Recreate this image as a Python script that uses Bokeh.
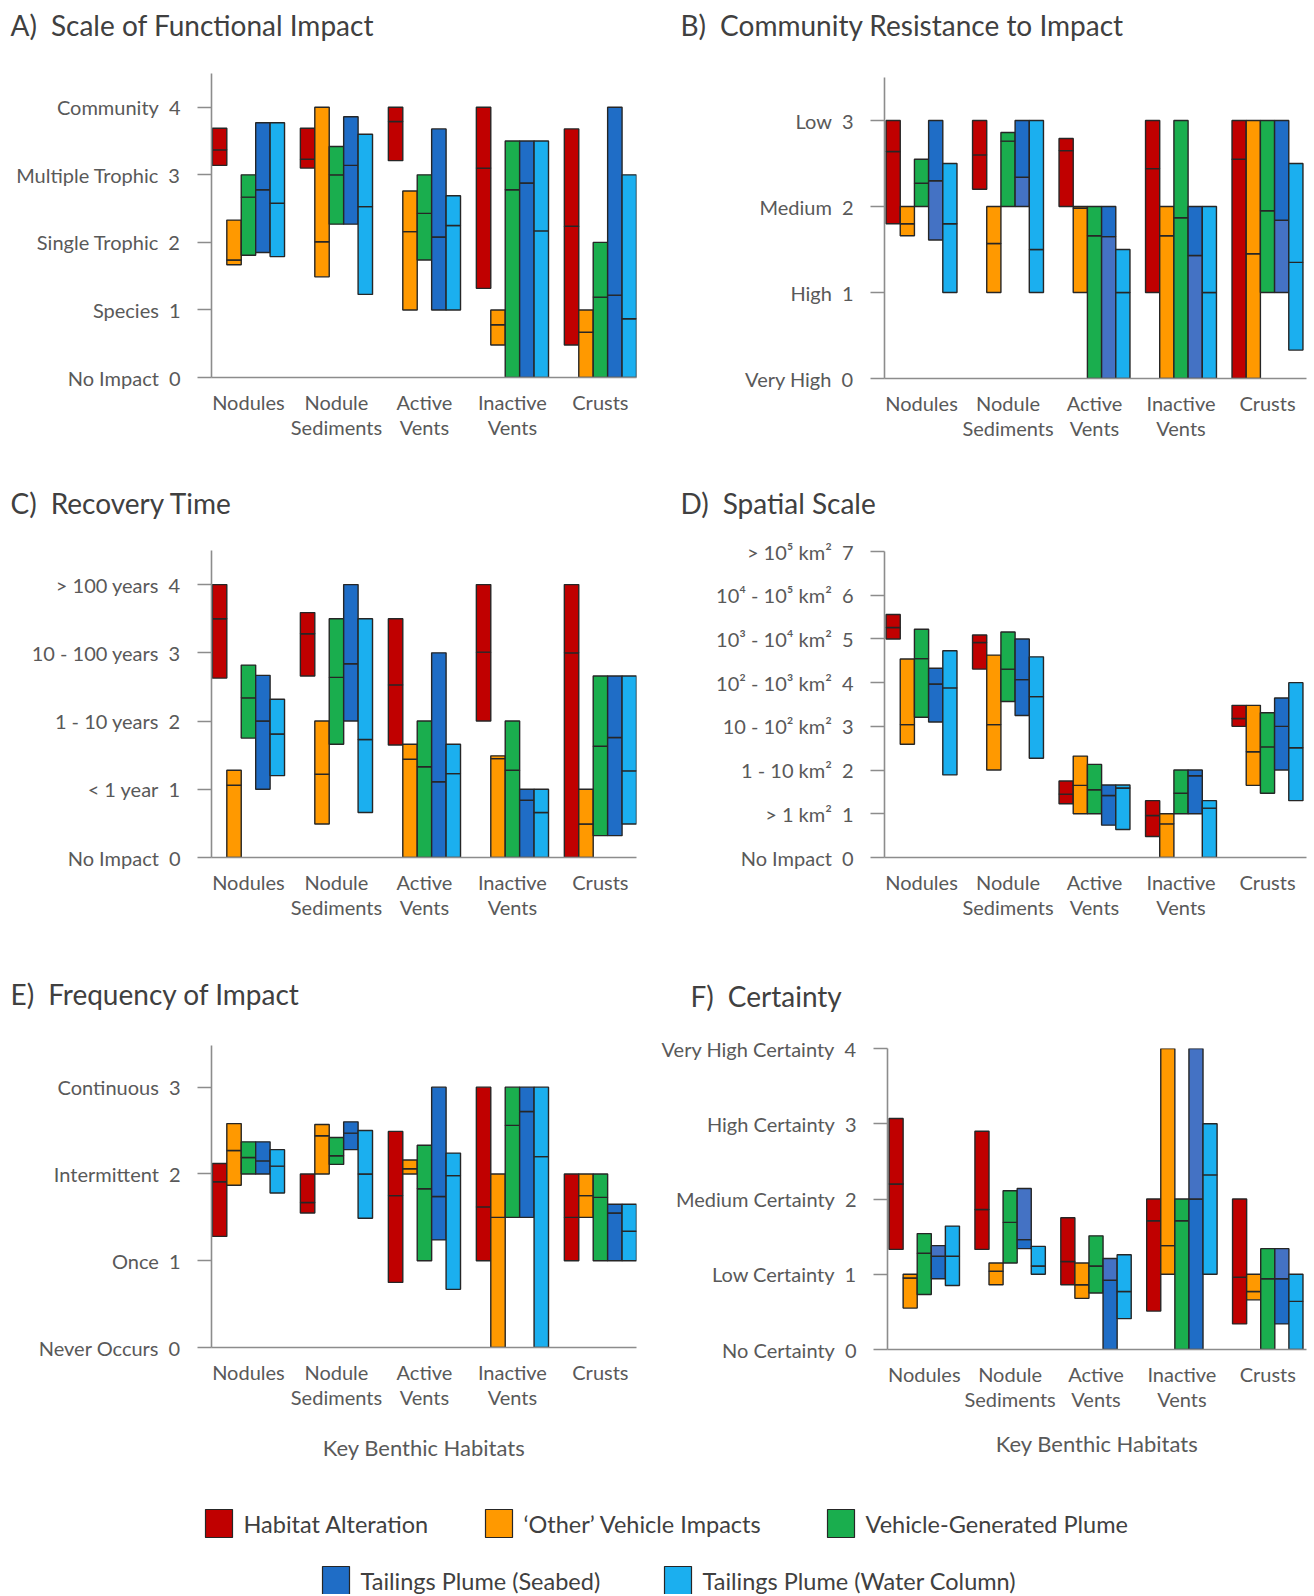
from bokeh.plotting import figure
from bokeh.layouts import column, row
from bokeh.models import FixedTicker, Range1d, ColumnDataSource
from bokeh.embed import file_html
from bokeh.resources import INLINE
from bokeh.core.properties import value

# ---------------- data ----------------
HABITATS = ["Nodules", "Nodule\nSediments", "Active\nVents", "Inactive\nVents", "Crusts"]
SERIES = ["Habitat Alteration", "\u2018Other\u2019 Vehicle Impacts", "Vehicle-Generated Plume",
          "Tailings Plume (Seabed)", "Tailings Plume (Water Column)"]
TITLES = ["A)\u2002Scale of Functional Impact", "B)\u2002Community Resistance to Impact",
          "C)\u2002Recovery Time", "D)\u2002Spatial Scale",
          "E)\u2002Frequency of Impact", "F)\u2002Certainty"]

# rows = series (in SERIES order), columns = habitats (in HABITATS order)
A_LABELS = ["No Impact", "Species", "Single Trophic", "Multiple Trophic", "Community"]
A_low = [[3.14, 3.10, 3.21, 1.32, 0.48], [1.67, 1.49, 1.00, 0.48, 0.00], [1.81, 2.27, 1.74, 0.00, 0.00],
         [1.85, 2.27, 1.00, 0.00, 0.00], [1.79, 1.23, 1.00, 0.00, 0.00]]
A_med = [[3.37, 3.23, 3.79, 3.10, 2.24], [1.74, 2.01, 2.16, 0.78, 0.67], [2.67, 3.00, 2.43, 2.78, 1.19],
         [2.78, 3.14, 2.08, 2.88, 1.22], [2.58, 2.53, 2.25, 2.17, 0.87]]
A_high = [[3.69, 3.69, 4.00, 4.00, 3.68], [2.33, 4.00, 2.76, 1.00, 1.00], [3.00, 3.42, 3.00, 3.50, 2.00],
          [3.77, 3.86, 3.68, 3.50, 4.00], [3.77, 3.60, 2.69, 3.50, 3.00]]

B_LABELS = ["Very High", "High", "Medium", "Low"]
B_low = [[1.80, 2.20, 2.00, 1.00, 0.00], [1.66, 1.00, 1.00, 0.00, 0.00], [2.00, 2.00, 0.00, 0.00, 1.00],
         [1.61, 2.00, 0.00, 0.00, 1.00], [1.00, 1.00, 0.00, 0.00, 0.33]]
B_med = [[2.64, 2.60, 2.65, 2.44, 2.55], [1.80, 1.57, 1.98, 1.66, 1.45], [2.27, 2.76, 1.66, 1.87, 1.95],
         [2.30, 2.34, 1.65, 1.43, 1.84], [1.80, 1.50, 1.00, 1.00, 1.35]]
B_high = [[3.00, 3.00, 2.79, 3.00, 3.00], [2.00, 2.00, 2.00, 2.00, 3.00], [2.55, 2.86, 2.00, 3.00, 3.00],
          [3.00, 3.00, 2.00, 2.00, 3.00], [2.50, 3.00, 1.50, 2.00, 2.50]]

C_LABELS = ["No Impact", "< 1 year", "1 - 10 years", "10 - 100 years", "> 100 years"]
C_low = [[2.63, 2.66, 1.65, 2.00, 0.00], [0.00, 0.49, 0.00, 0.00, 0.00], [1.75, 1.66, 0.00, 0.00, 0.32],
         [1.00, 2.00, 0.00, 0.00, 0.32], [1.20, 0.66, 0.00, 0.00, 0.49]]
C_med = [[3.50, 3.28, 2.53, 3.01, 3.00], [1.06, 1.22, 1.44, 1.45, 0.49], [2.34, 2.64, 1.33, 1.28, 1.63],
         [2.00, 2.84, 1.11, 0.84, 1.76], [1.81, 1.73, 1.23, 0.66, 1.27]]
C_high = [[4.00, 3.59, 3.50, 4.00, 4.00], [1.28, 2.00, 1.66, 1.49, 1.00], [2.82, 3.50, 2.00, 2.00, 2.66],
          [2.67, 4.00, 3.00, 1.00, 2.66], [2.32, 3.50, 1.66, 1.00, 2.66]]

D_LABELS = ["No Impact", "> 1 km\u00b2", "1 - 10 km\u00b2", "10 - 10\u00b2 km\u00b2", "10\u00b2 - 10\u00b3 km\u00b2",
            "10\u00b3 - 10\u2074 km\u00b2", "10\u2074 - 10\u2075 km\u00b2", "> 10\u2075 km\u00b2"]
D_low = [[5.00, 4.31, 1.23, 0.48, 3.00], [2.59, 2.00, 1.00, 0.00, 1.65], [3.21, 3.57, 1.00, 1.00, 1.47],
         [3.10, 3.25, 0.74, 1.00, 2.00], [1.89, 2.27, 0.64, 0.00, 1.30]]
D_med = [[5.26, 4.92, 1.45, 0.96, 3.18], [3.04, 3.04, 1.65, 0.77, 2.42], [4.55, 4.31, 1.55, 1.47, 2.53],
         [3.97, 4.07, 1.42, 1.87, 3.00], [3.88, 3.68, 1.59, 1.13, 2.51]]
D_high = [[5.56, 5.09, 1.75, 1.30, 3.48], [4.54, 4.63, 2.32, 1.00, 3.48], [5.22, 5.16, 2.13, 2.00, 3.31],
          [4.33, 5.00, 1.66, 2.00, 3.65], [4.73, 4.59, 1.66, 1.30, 4.00]]

E_LABELS = ["Never Occurs", "Once", "Intermittent", "Continuous"]
E_low = [[1.28, 1.55, 0.75, 1.00, 1.00], [1.87, 2.00, 2.00, 0.00, 1.50], [2.00, 2.11, 1.00, 1.50, 1.00],
         [2.00, 2.28, 1.24, 1.50, 1.00], [1.78, 1.49, 0.67, 0.00, 1.00]]
E_med = [[1.91, 1.67, 1.75, 1.62, 1.50], [2.27, 2.44, 2.06, 1.50, 1.75], [2.19, 2.21, 1.83, 2.56, 1.73],
         [2.15, 2.47, 1.74, 2.72, 1.55], [2.09, 2.00, 1.98, 2.20, 1.34]]
E_high = [[2.12, 2.00, 2.49, 3.00, 2.00], [2.58, 2.57, 2.16, 2.00, 2.00], [2.37, 2.42, 2.33, 3.00, 2.00],
          [2.37, 2.60, 3.00, 3.00, 1.65], [2.28, 2.50, 2.24, 3.00, 1.65]]

F_LABELS = ["No Certainty", "Low Certainty", "Medium Certainty", "High Certainty", "Very High Certainty"]
F_low = [[1.33, 1.33, 0.86, 0.51, 0.34], [0.55, 0.86, 0.68, 1.00, 0.66], [0.73, 1.15, 0.75, 0.00, 0.00],
         [0.94, 1.34, 0.00, 0.00, 0.34], [0.85, 1.00, 0.41, 1.00, 0.00]]
F_med = [[2.20, 1.86, 1.17, 1.71, 0.96], [0.95, 1.04, 0.86, 1.38, 0.77], [1.28, 1.69, 1.11, 1.71, 0.94],
         [1.24, 1.46, 0.92, 2.00, 0.94], [1.24, 1.11, 0.77, 2.32, 0.64]]
F_high = [[3.07, 2.90, 1.75, 2.00, 2.00], [1.00, 1.15, 1.15, 4.00, 1.00], [1.54, 2.11, 1.51, 2.00, 1.34],
          [1.38, 2.14, 1.21, 4.00, 1.34], [1.64, 1.37, 1.26, 3.00, 1.00]]

# ---------------- style ----------------
COLORS = ["#C00000", "#FF9900", "#1AAE4E", "#1F6DC6", "#1BAFEF"]
ALT_BLUE = "#4472C4"
EDGE = "#262626"
FONT = "Lato"
AXIS_COL = "#8C8C8C"
TXT_COL = "#595959"
TITLE_COL = "#404040"
BW = 0.164
LEFT_W, RIGHT_W = 658, 656
PAGE_W = LEFT_W + RIGHT_W


def blank_fig(W, H):
    t = figure(width=W, height=H, x_range=Range1d(0, W), y_range=Range1d(0, H),
               output_backend="svg", toolbar_location=None, x_axis_type=None, y_axis_type=None,
               min_border=0)
    t.outline_line_color = None
    t.xgrid.visible = False
    t.ygrid.visible = False
    return t


def title_row(texts, H, xs, ys):
    t = blank_fig(PAGE_W, H)
    src = ColumnDataSource(dict(x=xs, y=ys, text=texts))
    t.text(x="x", y="y", text="text", source=src, text_font=value(FONT), text_font_size="28px",
           text_color=TITLE_COL, text_align="left", text_baseline="middle")
    return t


def panel(ylabels, low, med, high, ymax, side, H, top_b, bot_b, shade=None, xlabel=None,
          xlabel_standoff=22):
    if side == "left":
        W, bl, br, xr = LEFT_W, 211, 22, (-0.42, 4.41)
    else:
        W, bl, br, xr = RIGHT_W, 226, 8, (-0.428, 4.451)
    p = figure(width=W, height=H, x_range=Range1d(*xr), y_range=Range1d(0, ymax),
               output_backend="svg", toolbar_location=None,
               min_border_left=bl, min_border_right=br, min_border_top=top_b, min_border_bottom=bot_b)
    p.outline_line_color = None
    p.xgrid.visible = False
    p.ygrid.visible = False

    xs, bots, tops, fills = [], [], [], []
    for s in range(5):
        for h in range(5):
            x = h + (s - 2) * BW
            lo_col = COLORS[s]
            up_col = COLORS[s]
            if s == 3 and shade == "lower":
                lo_col = ALT_BLUE
            if s == 3 and shade == "upper":
                up_col = ALT_BLUE
            xs += [x, x]
            bots += [low[s][h], med[s][h]]
            tops += [med[s][h], high[s][h]]
            fills += [lo_col, up_col]
    src = ColumnDataSource(dict(x=xs, bottom=bots, top=tops, fill=fills))
    p.vbar(x="x", width=BW, bottom="bottom", top="top", source=src,
           fill_color="fill", line_color=EDGE, line_width=1.4)

    ya = p.yaxis[0]
    ya.ticker = FixedTicker(ticks=list(range(len(ylabels))))
    ya.major_label_overrides = {i: f"{lab}\u2002{i}" for i, lab in enumerate(ylabels)}
    ya.axis_line_color = AXIS_COL
    ya.axis_line_width = 1.6
    ya.major_tick_line_color = AXIS_COL
    ya.major_tick_line_width = 1.6
    ya.major_tick_out = 14
    ya.major_tick_in = 0
    ya.minor_tick_out = 0
    ya.minor_tick_in = 0
    ya.major_label_standoff = 17
    ya.major_label_text_font = FONT
    ya.major_label_text_font_size = "20px"
    ya.major_label_text_color = TXT_COL

    xa = p.xaxis[0]
    xa.ticker = FixedTicker(ticks=[0, 1, 2, 3, 4])
    xa.major_label_overrides = {i: lab for i, lab in enumerate(HABITATS)}
    xa.axis_line_color = AXIS_COL
    xa.axis_line_width = 1.6
    xa.major_tick_out = 0
    xa.major_tick_in = 0
    xa.minor_tick_out = 0
    xa.minor_tick_in = 0
    xa.major_label_standoff = 12
    xa.major_label_text_font = FONT
    xa.major_label_text_font_size = "20px"
    xa.major_label_text_color = TXT_COL
    xa.major_label_text_line_height = 1.05
    if xlabel:
        xa.axis_label = xlabel
        xa.axis_label_standoff = xlabel_standoff
        xa.axis_label_text_font = FONT
        xa.axis_label_text_font_size = "22px"
        xa.axis_label_text_font_style = "normal"
        xa.axis_label_text_color = TXT_COL
    # wrap in its own column so the frames of neighbouring panels are not aligned
    return column(p)


# row 1  (page y 0 - 470)
t1 = title_row(TITLES[0:2], 56, [10, 680], [31.5, 31.5])
pA = panel(A_LABELS, A_low, A_med, A_high, 4.5, "left", 414, 17, 93)
pB = panel(B_LABELS, B_low, B_med, B_high, 3.5, "right", 414, 21, 92, shade="lower")
# row 2  (page y 470 - 950)
t2 = title_row(TITLES[2:4], 56, [10, 680], [24, 24])
pC = panel(C_LABELS, C_low, C_med, C_high, 4.5, "left", 424, 24, 93)
pD = panel(D_LABELS, D_low, D_med, D_high, 7, "right", 424, 25, 93)
# row 3  (page y 950 - 1480)
t3 = title_row(TITLES[4:6], 66, [10, 690], [22.5, 20.5])
pE = panel(E_LABELS, E_low, E_med, E_high, 3.48, "left", 464, 29, 133,
           xlabel="Key Benthic Habitats", xlabel_standoff=22)
pF = panel(F_LABELS, F_low, F_med, F_high, 4, "right", 464, 32, 131, shade="upper",
           xlabel="Key Benthic Habitats", xlabel_standoff=16)

# ---------------- legend ----------------
pL = blank_fig(PAGE_W, 114)
LEG_X = [205, 485, 827, 322, 664]     # swatch left edges (layout)
LEG_Y = [71, 71, 71, 14, 14]          # row centres (layout)
SW, SH, GAP = 27, 28, 11
leg_src = ColumnDataSource(dict(
    x=[lx + SW / 2 for lx in LEG_X], y=LEG_Y, color=COLORS,
    tx=[lx + SW + GAP for lx in LEG_X], label=SERIES))
pL.rect(x="x", y="y", width=SW, height=SH, source=leg_src, fill_color="color",
        line_color=EDGE, line_width=1.2)
pL.text(x="tx", y="y", text="label", source=leg_src, text_font=value(FONT),
        text_font_size="23.5px", text_color=TITLE_COL, text_baseline="middle", text_align="left")

layout = column(t1, row(pA, pB), t2, row(pC, pD), t3, row(pE, pF), pL)
open("out.html", "w").write(file_html(layout, INLINE))
